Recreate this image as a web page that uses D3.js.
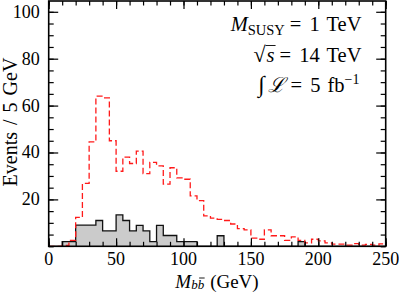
<!DOCTYPE html>
<html>
<head>
<meta charset="utf-8">
<script src="https://cdn.jsdelivr.net/npm/d3@7/dist/d3.min.js"></script>
<style>
  body { margin: 0; background: #fff; }
  text { font-family: "Liberation Serif", "DejaVu Serif", serif; fill: #000; }
</style>
</head>
<body>
<svg id="chart" width="399" height="292"></svg>
<script>
// 5 GeV bins from 0 to 250 GeV
var binEdges = d3.range(0, 255, 5);

// red dashed histogram (events / 5 GeV)
var signal = [0, 0, 0.4, 2.5, 12.3, 26.8, 44.5, 64, 63.3, 45,
              32, 38, 35.3, 40.6, 31, 35.8, 34.3, 26.5, 33.5, 29.2,
              28.6, 21.5, 19.5, 13, 12, 11.5, 11, 9.5, 7.5, 7,
              3.5, 3, 7, 4.5, 4.5, 2.5, 4, 2.5, 1.5, 3,
              2.3, 1.5, 0.9, 0.9, 0.5, 1.1, 0.5, 0.8, 0.5, 1];

// gray filled histogram
var background = [0, 0, 2, 2, 9, 9, 9, 11, 6.6, 6.6,
                  13.4, 11, 6.6, 8.9, 6.6, 2, 8.9, 4.6, 4.6, 2,
                  2, 2, 0, 0, 0, 4.5, 0, 0, 0, 0,
                  0, 0, 0, 0, 0, 0, 0, 2, 0, 0,
                  0, 0, 0, 0, 0, 0, 0, 0, 0, 0];

var xTicks = [0, 50, 100, 150, 200, 250];
var yTicks = [20, 40, 60, 80, 100];

var W = 399, H = 292;
var m = {left: 48.7, right: 13.3, top: 1, bottom: 45.7};

var svg = d3.select("#chart");

var x = d3.scaleLinear().domain([0, 250]).range([m.left, W - m.right]);
var y = d3.scaleLinear().domain([0, 104.6]).range([H - m.bottom, m.top]);

function steps(vals) {
  var pts = [];
  vals.forEach(function(v, i) {
    pts.push([binEdges[i], v]);
    pts.push([binEdges[i + 1], v]);
  });
  return pts;
}

var plot = svg.append("g");

// gray histogram
var area = d3.area()
  .x(function(d) { return x(d[0]); })
  .y0(y(0))
  .y1(function(d) { return y(d[1]); });
var line = d3.line()
  .x(function(d) { return x(d[0]); })
  .y(function(d) { return y(d[1]); });

plot.append("path")
  .attr("d", area(steps(background)))
  .attr("fill", "#cbcbcb");
plot.append("path")
  .attr("d", line(steps(background)))
  .attr("fill", "none")
  .attr("stroke", "#111")
  .attr("stroke-width", 1.3);

// red dashed histogram
plot.append("path")
  .attr("d", line(steps(signal)))
  .attr("fill", "none")
  .attr("stroke", "#ff1a1a")
  .attr("stroke-width", 1.3)
  .attr("stroke-dasharray", "6,3");

// ticks, all four sides, pointing inward
var xMinor = d3.range(0, 251, 10);
var yMinor = d3.range(0, 105, 5);

function tickAxis(axisFn, scale, vals, size, tr) {
  var g = svg.append("g").attr("transform", tr)
    .call(axisFn(scale).tickValues(vals).tickSize(size).tickFormat(""));
  g.select(".domain").remove();
  g.selectAll("line").attr("stroke", "#000").attr("stroke-width", 1.2);
  return g;
}
var bottomY = H - m.bottom, rightX = W - m.right;
tickAxis(d3.axisBottom, x, xMinor, -4.5, "translate(0," + bottomY + ")");
tickAxis(d3.axisBottom, x, xTicks, -8, "translate(0," + bottomY + ")");
tickAxis(d3.axisTop, x, xMinor, -4.5, "translate(0," + m.top + ")");
tickAxis(d3.axisTop, x, xTicks, -8, "translate(0," + m.top + ")");
tickAxis(d3.axisLeft, y, yMinor, -5, "translate(" + m.left + ",0)");
tickAxis(d3.axisLeft, y, yTicks, -9.5, "translate(" + m.left + ",0)");
tickAxis(d3.axisRight, y, yMinor, -5, "translate(" + rightX + ",0)");
tickAxis(d3.axisRight, y, yTicks, -9.5, "translate(" + rightX + ",0)");

// frame
svg.append("rect")
  .attr("x", m.left).attr("y", m.top)
  .attr("width", rightX - m.left).attr("height", bottomY - m.top)
  .attr("fill", "none").attr("stroke", "#000").attr("stroke-width", 1.6);

// tick labels
svg.append("g").selectAll("text").data(xTicks).enter().append("text")
  .attr("x", function(d) { return x(d); })
  .attr("y", bottomY + 19)
  .attr("text-anchor", "middle")
  .attr("font-size", 18)
  .text(function(d) { return d; });

svg.append("g").selectAll("text").data(yTicks).enter().append("text")
  .attr("x", m.left - 9)
  .attr("y", function(d) { return y(d) + 6; })
  .attr("text-anchor", "end")
  .attr("font-size", 18)
  .text(function(d) { return d; });

// axis titles
svg.append("text")
  .attr("transform", "translate(17,122) rotate(-90)")
  .attr("text-anchor", "middle")
  .attr("font-size", 20)
  .attr("word-spacing", 2)
  .text("Events / 5 GeV");

var xlY = 287.5;
var xl = svg.append("text")
  .attr("x", 217).attr("y", xlY)
  .attr("text-anchor", "middle")
  .attr("font-size", 19);
xl.append("tspan").attr("font-style", "italic").text("M");
xl.append("tspan").attr("font-style", "italic").attr("font-size", 13)
  .attr("dy", 1.5).text("bb");
xl.append("tspan").attr("dy", -1.5).attr("dx", 6).text("(GeV)");
// bar over the second b
var nx = xl.node();
var bx0 = nx.getStartPositionOfChar(2).x, bx1 = nx.getEndPositionOfChar(2).x;
svg.append("line")
  .attr("x1", bx0 + 1.5).attr("x2", bx1 + 0.5)
  .attr("y1", xlY - 9.5).attr("y2", xlY - 9.5)
  .attr("stroke", "#000").attr("stroke-width", 0.9);

// annotations
var ax = 361.5, fs = 20.5;
var t1 = svg.append("text").attr("x", ax).attr("y", 31)
  .attr("text-anchor", "end").attr("font-size", fs);
t1.append("tspan").attr("font-style", "italic").text("M");
t1.append("tspan").attr("font-size", 14.5).attr("dy", 4).text("SUSY");
t1.append("tspan").attr("dy", -4).attr("dx", 5).text("=");
t1.append("tspan").attr("dx", 3).text(" 1");
t1.append("tspan").attr("dx", 2).text(" TeV");

var t2 = svg.append("text").attr("x", ax).attr("y", 62)
  .attr("text-anchor", "end").attr("font-size", fs);
t2.append("tspan").attr("font-size", 22).text("\u221A");
t2.append("tspan").attr("font-style", "italic").attr("dx", 1).text("s");
t2.append("tspan").attr("dx", 5).text("=");
t2.append("tspan").attr("dx", 3).text(" 14");
t2.append("tspan").attr("dx", 2).text(" TeV");
// overline of the square root
var n2 = t2.node();
var sx0 = n2.getStartPositionOfChar(0).x, sx1 = n2.getEndPositionOfChar(1).x;
svg.append("line")
  .attr("x1", sx0 + 12).attr("x2", sx1 + 1)
  .attr("y1", 62 - 16.5).attr("y2", 62 - 16.5)
  .attr("stroke", "#000").attr("stroke-width", 0.9);

var t3 = svg.append("text").attr("x", ax - 2).attr("y", 92)
  .attr("text-anchor", "end").attr("font-size", fs);
t3.append("tspan").attr("font-size", 23).text("\u222B");
t3.append("tspan").attr("font-style", "italic").attr("dx", 4).text("\u2112");
t3.append("tspan").attr("dx", 5).text("=");
t3.append("tspan").attr("dx", 3).text(" 5");
t3.append("tspan").attr("dx", 2).text(" fb");
t3.append("tspan").attr("font-size", 14).attr("dy", -8).text("\u22121");
</script>
</body>
</html>
